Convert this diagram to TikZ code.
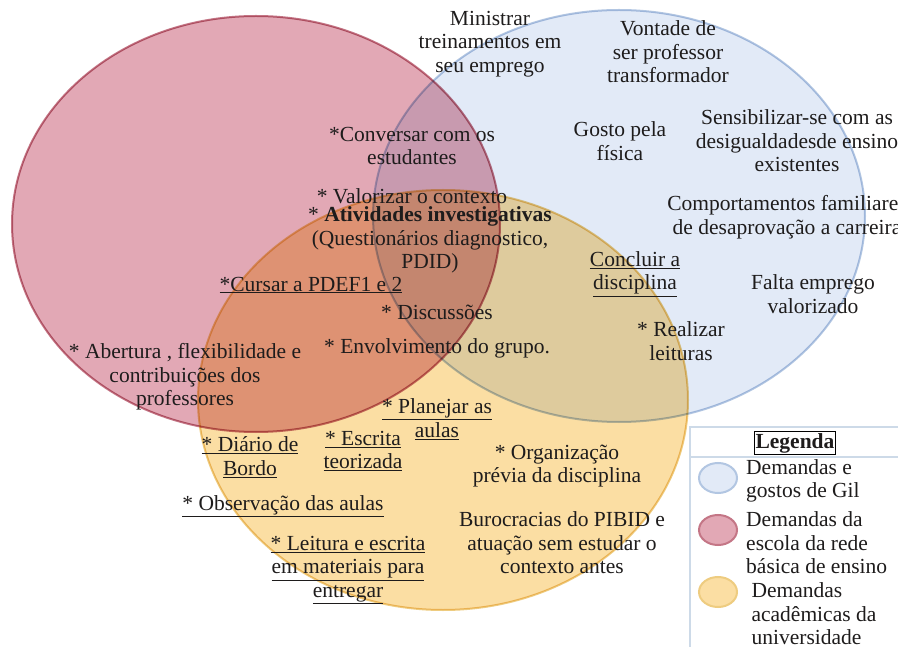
\documentclass[tikz,border=0pt]{standalone}
\usepackage{fontspec}
\setmainfont{Liberation Serif}
\usepackage{tikz}

\definecolor{gilfill}{RGB}{226,234,247}
\definecolor{gilline}{RGB}{178,198,226}
\definecolor{escolafill}{RGB}{226,168,181}
\definecolor{escolaline}{RGB}{196,118,134}
\definecolor{univfill}{RGB}{251,222,163}
\definecolor{univline}{RGB}{238,204,128}
\definecolor{texto}{RGB}{30,28,28}
\definecolor{moldura}{RGB}{205,218,232}

\newcommand{\sublinha}[1]{\underline{#1}}

\tikzset{
  conjunto/.style={line width=2pt},
  rotulo/.style={text=texto, align=center, inner sep=0pt,
    font=\fontsize{21.5}{23.5}\selectfont},
  itemleg/.style={rotulo, align=left, anchor=west},
}

\begin{document}
\begin{tikzpicture}[x=1pt,y=-1pt]
      \useasboundingbox (0,0) rectangle (898,647);
      \fill[white] (0,0) rectangle (898,647);
      % os tres conjuntos
      \begin{scope}[blend group=multiply]
      \draw[conjunto,fill=gilfill,draw=gilline] (619,216) ellipse [x radius=246pt, y radius=206pt];
      \draw[conjunto,fill=escolafill,draw=escolaline] (256,224) ellipse [x radius=244pt, y radius=208pt];
      \draw[conjunto,fill=univfill,draw=univline] (443,400) ellipse [x radius=245pt, y radius=210pt];
      \end{scope}

      % textos do conjunto azul
      \node[rotulo] (ministrar) at (490,44) {Ministrar\\treinamentos em\\seu emprego};
      \node[rotulo] (vontade) at (668,52) {Vontade de\\ser professor\\transformador};
      \node[rotulo] (gosto) at (620,141) {Gosto pela\\física};
      \node[rotulo] (sensib) at (797,141) {Sensibilizar-se com as\\desigualdadesde ensino\\existentes};
      \node[rotulo] (comport) at (787,217) {Comportamentos familiares\\de desaprovação a carreira};
      \node[rotulo] (falta) at (813,294) {Falta emprego\\valorizado};
      \node[rotulo] (concluir) at (635,274) {\sublinha{Concluir a}\\\sublinha{disciplina}};
      \node[rotulo] (realizar) at (681,341) {* Realizar\\leituras};

      % textos do conjunto vermelho e intersecoes
      \node[rotulo] (conversar) at (412,146) {*Conversar com os\\estudantes};
      \node[rotulo] (valorizar) at (412,196) {* Valorizar o contexto};
      \node[rotulo] (atividades) at (430,240) {* \textbf{Atividades investigativas}\\(Questionários diagnostico,\\PDID)};
      \node[rotulo] (cursar) at (311,285) {\sublinha{*Cursar a PDEF1 e 2}};
      \node[rotulo] (discussoes) at (437,312) {* Discussões};
      \node[rotulo] (envolv) at (437,348) {* Envolvimento do grupo.};
      \node[rotulo] (abertura) at (185,377) {* Abertura , flexibilidade e\\contribuições dos\\professores};

      % textos do conjunto amarelo
      \node[rotulo] (planejar) at (437,419) {\sublinha{* Planejar as}\\\sublinha{aulas}};
      \node[rotulo] (escrita) at (363,451) {\sublinha{* Escrita}\\\sublinha{teorizada}};
      \node[rotulo] (diario) at (250,457) {\sublinha{* Diário de}\\\sublinha{Bordo}};
      \node[rotulo] (observ) at (283,506) {\sublinha{* Observação das aulas}};
      \node[rotulo] (leitura) at (348,570) {\sublinha{* Leitura e escrita}\\\sublinha{em materiais para}\\\sublinha{entregar}};
      \node[rotulo] (organiz) at (557,466) {* Organização\\prévia da disciplina};
      \node[rotulo] (burocr) at (562,543) {Burocracias do PIBID e\\atuação sem estudar o\\contexto antes};

      % legenda
      \draw[moldura,line width=1.5pt] (690,427) rectangle (910,660);
      \draw[moldura,line width=1.5pt] (690,457) -- (898,457);
      \node[rotulo,draw=black,line width=1pt,inner sep=1.5pt,font=\fontsize{21.5}{23.5}\selectfont\bfseries] (legenda) at (795,443) {Legenda};
      \draw[conjunto,fill=gilfill,draw=gilline] (718,478) ellipse [x radius=19pt, y radius=15pt];
      \draw[conjunto,fill=escolafill,draw=escolaline] (718,530) ellipse [x radius=19pt, y radius=15pt];
      \draw[conjunto,fill=univfill,draw=univline] (718,592) ellipse [x radius=19pt, y radius=15pt];
      \node[itemleg] (leg1) at (746,481) {Demandas e\\ gostos de Gil};
      \node[itemleg] (leg2) at (746,543) {Demandas da\\escola da rede\\básica de ensino};
      \node[itemleg] (leg3) at (746,614) {\ Demandas\\\ acadêmicas da\\\ universidade};
\end{tikzpicture}
\end{document}
